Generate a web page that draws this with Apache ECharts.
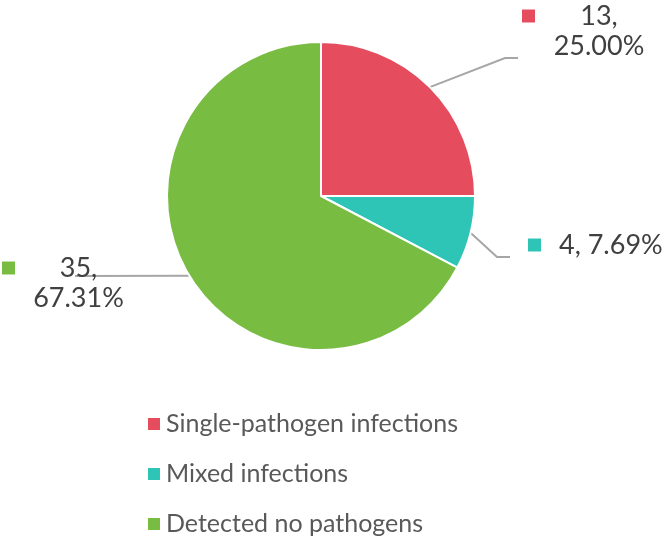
<!DOCTYPE html>
<html lang="en">
<head>
<meta charset="UTF-8">
<title>Pathogen detection</title>
<script src="https://cdn.jsdelivr.net/npm/echarts@6/dist/echarts.min.js"></script>
<style>html,body{margin:0;padding:0;background:#fff;}</style>
</head>
<body>
<div id="main" style="width:664px;height:539px;"></div>
<script>
// data
var categories = ['Single-pathogen infections', 'Mixed infections', 'Detected no pathogens'];
var counts = [13, 4, 35];
var colors = ['#E54D5F', '#2EC4B6', '#78BC42'];

// where each label sits (left, top) and the bends of its guide line
var labelPos = [[522, 1], [528, 230], [2, 253]];
var lineBends = [[[505, 58], [518, 58]], [[497, 257], [510, 257]], [[75, 276]]];
var labelWidth = [123, 140, 122];

var myChart = echarts.init(document.getElementById('main'));

var rich = {
    g: { width: 18 },
    s: { width: 31 },
    c: { align: 'center', fontSize: 27, lineHeight: 30, color: '#404040', fontFamily: 'Lato' },
    t: { fontSize: 27, lineHeight: 30, color: '#404040', fontFamily: 'Lato' }
};
colors.forEach(function (c, i) {
    rich['k' + i] = { width: 13, height: 13, backgroundColor: c };
});

var seriesData = categories.map(function (name, i) {
    return {
        name: name,
        value: counts[i],
        label: { width: labelWidth[i] }
    };
});

myChart.setOption({
    animation: false,
    color: colors,
    legend: {
        orient: 'vertical',
        left: 146,
        top: 411,
        padding: 0,
        height: 130,
        icon: 'rect',
        itemWidth: 14,
        itemHeight: 14,
        itemGap: 24,
        selectedMode: false,
        textStyle: { fontSize: 25, lineHeight: 26, color: '#595959', fontFamily: 'Lato' },
        data: categories
    },
    series: [{
        type: 'pie',
        center: [321, 196],
        radius: 154,
        startAngle: 90,
        clockwise: true,
        avoidLabelOverlap: false,
        percentPrecision: 2,
        itemStyle: { borderColor: '#fff', borderWidth: 2 },
        label: {
            show: true,
            position: 'outside',
            overflow: 'none',
            fontFamily: 'Lato',
            formatter: function (p) {
                var pct = p.percent.toFixed(2) + '%';
                var key = '{k' + p.dataIndex + '|}{g|}';
                if (p.dataIndex === 1) {
                    return key + '{t|' + p.value + ', ' + pct + '}';
                }
                return key + '{c|' + p.value + ',}\n{s|}{c|' + pct + '}';
            },
            rich: rich
        },
        labelLine: {
            show: true,
            lineStyle: { color: '#A6A6A6', width: 2 }
        },
        labelLayout: function (params) {
            var i = params.dataIndex;
            var out = {
                x: labelPos[i][0],
                y: labelPos[i][1],
                align: 'left',
                verticalAlign: 'top'
            };
            if (params.labelLinePoints) {
                out.labelLinePoints = [params.labelLinePoints[0]].concat(lineBends[i]);
            }
            return out;
        },
        data: seriesData
    }]
});

window.onresize = function () {
    myChart.resize();
};
</script>
</body>
</html>
